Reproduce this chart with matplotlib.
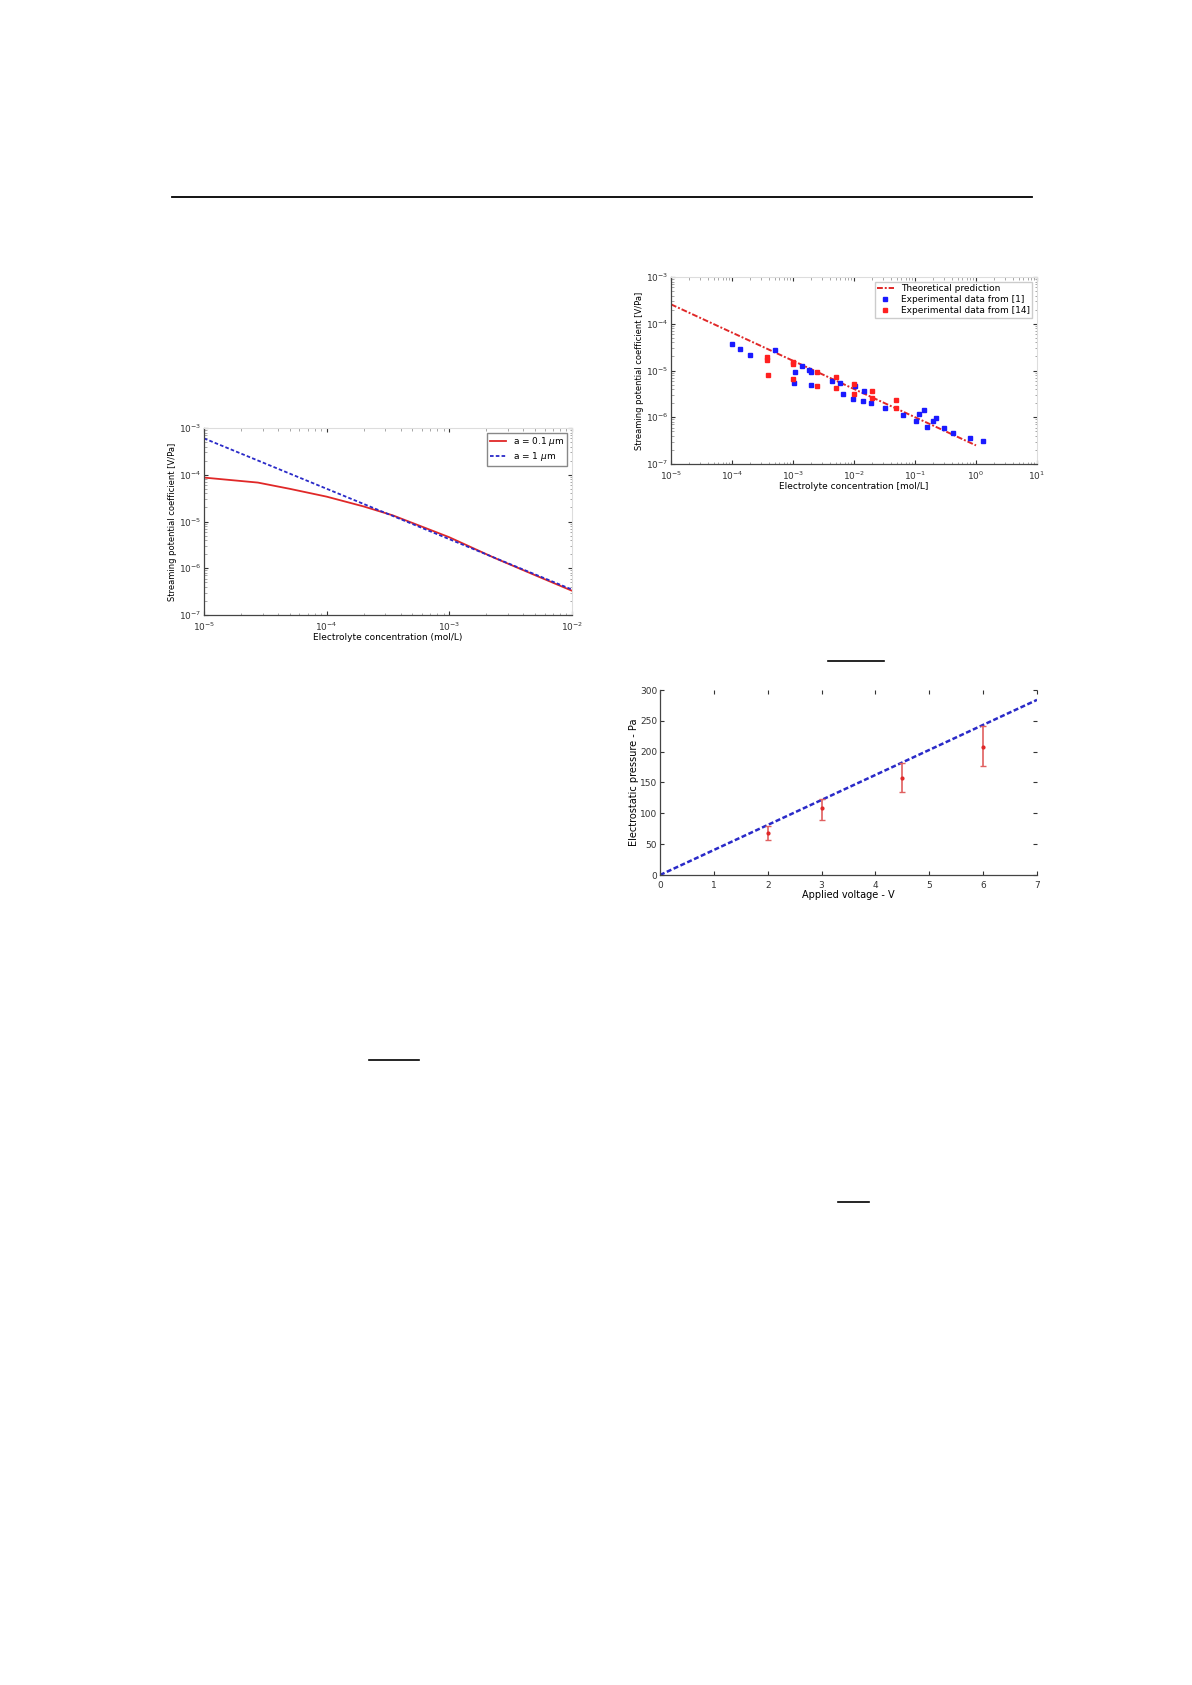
import numpy as np
import matplotlib
matplotlib.use('Agg')
import matplotlib.pyplot as plt
from matplotlib.lines import Line2D

plt.rcParams['font.family'] = ['DejaVu Sans']
plt.rcParams['font.size'] = 6.5

# chart 1 - streaming potential coefficient vs concentration, two pore radii
conc_1 = [1e-5, 2.75e-5, 5.0e-5, 1e-4, 2.0e-4, 3.47e-4, 5.6e-4, 1e-3, 2.34e-3, 5.0e-3, 1e-2]
coef_small = [8.7e-5, 6.8e-5, 5.0e-5, 3.4e-5, 2.1e-5, 1.35e-5, 8.3e-6, 4.6e-6, 1.66e-6, 7.1e-7, 3.3e-7]
conc_blue = [1e-5, 1e-2]
coef_large = [6.0e-4, 3.5e-7]

# chart 2 - theory vs experiments
theory_conc = [1e-5, 1.0]
theory_coef = [2.6e-4, 2.5e-7]
exp1_conc = [1.0e-4, 1.35e-4, 2.0e-4, 5.1e-4, 1.08e-3, 1.05e-3, 1.38e-3, 1.85e-3,
             2.0e-3, 1.96e-3, 4.3e-3, 5.9e-3, 6.6e-3, 9.7e-3, 1.03e-2, 1.44e-2,
             1.41e-2, 1.9e-2, 3.2e-2, 6.3e-2, 0.105, 0.116, 0.138, 0.158, 0.196,
             0.223, 0.296, 0.414, 0.81, 1.29]
exp1_coef = [3.7e-5, 2.9e-5, 2.1e-5, 2.8e-5, 9.1e-6, 5.4e-6, 1.26e-5, 1.03e-5,
             5.0e-6, 9.1e-6, 6.1e-6, 5.5e-6, 3.2e-6, 2.5e-6, 4.6e-6, 3.6e-6,
             2.2e-6, 2.0e-6, 1.6e-6, 1.1e-6, 8.3e-7, 1.18e-6, 1.45e-6, 6.3e-7, 8.5e-7,
             9.7e-7, 5.9e-7, 4.7e-7, 3.6e-7, 3.1e-7]
exp14_conc = [3.8e-4, 3.8e-4, 3.9e-4, 1.0e-3, 1.0e-3, 1.0e-3, 2.5e-3, 2.5e-3,
              5.0e-3, 5.0e-3, 1.0e-2, 1.0e-2, 2.0e-2, 2.0e-2, 4.9e-2, 4.9e-2]
exp14_coef = [1.94e-5, 1.7e-5, 7.9e-6, 1.5e-5, 1.35e-5, 6.6e-6, 9.3e-6, 4.6e-6,
              7.2e-6, 4.2e-6, 5.1e-6, 3.1e-6, 3.7e-6, 2.6e-6, 2.3e-6, 1.6e-6]

# chart 3 - electrostatic pressure vs voltage
line_v = [0, 7]
line_p = [0, 284]
meas_v = [2, 3, 4.5, 6]
meas_p = [68, 108, 158, 208]
meas_lo = [57, 90, 134, 176]
meas_hi = [80, 124, 182, 242]

RED = '#e02828'
BLUE = '#2a2ac8'
W, H = 1192, 1685


def px_axes(fig, x0, y0, x1, y1):
    return fig.add_axes([x0 / W, 1 - y1 / H, (x1 - x0) / W, (y1 - y0) / H])


def matlab_style(ax):
    ax.tick_params(which='both', direction='in', top=True, right=True,
                   labelsize=6.5, colors='#333333')
    ax.tick_params(axis='x', pad=4)
    ax.tick_params(axis='y', pad=2)
    ax.tick_params(which='major', length=3)
    ax.tick_params(which='minor', length=1.8, color='#999999')
    for side in ['top', 'right']:
        ax.spines[side].set_color('#dddddd')
    for side in ['left', 'bottom']:
        ax.spines[side].set_color('#444444')
        ax.spines[side].set_linewidth(0.9)


fig = plt.figure(figsize=(W / 100, H / 100), dpi=100)

# page rules left over from the scanned page
fig.add_artist(Line2D([172 / W, 1032 / W], [1 - 197 / H, 1 - 197 / H], color='black', lw=1.3))
fig.add_artist(Line2D([828 / W, 884 / W], [1 - 661 / H, 1 - 661 / H], color='black', lw=1.2))
fig.add_artist(Line2D([369 / W, 419 / W], [1 - 1060 / H, 1 - 1060 / H], color='black', lw=1.2))
fig.add_artist(Line2D([838 / W, 869 / W], [1 - 1202 / H, 1 - 1202 / H], color='black', lw=1.2))

# chart 1
ax1 = px_axes(fig, 204, 428, 572, 615)
ax1.plot(conc_1, coef_small, color=RED, lw=1.3, label=r'a = 0.1 $\mu$m')
ax1.plot(conc_blue, coef_large, color=BLUE, lw=1.3, ls=(0, (2, 1.2)), label=r'a = 1 $\mu$m')
ax1.set_xscale('log')
ax1.set_yscale('log')
ax1.set_xlim(1e-5, 1e-2)
ax1.set_ylim(1e-7, 1e-3)
matlab_style(ax1)
ax1.set_xlabel('Electrolyte concentration (mol/L)', fontsize=6.5, labelpad=0)
ax1.set_ylabel('Streaming potential coefficient [V/Pa]', fontsize=6, labelpad=1)
ax1.legend(loc='upper right', fontsize=6.5, handlelength=1.8, borderpad=0.3,
           labelspacing=0.2, fancybox=False, edgecolor='#888888', framealpha=1)

# chart 2
ax2 = px_axes(fig, 671, 277, 1037, 464)
ax2.plot(theory_conc, theory_coef, color=RED, lw=1.4, ls=(0, (3, 1, 1, 1)),
         label='Theoretical prediction')
ax2.plot(exp1_conc, exp1_coef, ls='none', marker='s', ms=3.4, color='#1a1aff',
         label='Experimental data from [1]')
ax2.plot(exp14_conc, exp14_coef, ls='none', marker='s', ms=3.0, color='#ff2020',
         label='Experimental data from [14]')
ax2.set_xscale('log')
ax2.set_yscale('log')
ax2.set_xlim(1e-5, 1e1)
ax2.set_ylim(1e-7, 1e-3)
matlab_style(ax2)
ax2.set_xlabel('Electrolyte concentration [mol/L]', fontsize=6.5, labelpad=0)
ax2.set_ylabel('Streaming potential coefficient [V/Pa]', fontsize=6, labelpad=1)
ax2.legend(loc='upper right', fontsize=6.5, handlelength=1.8, borderpad=0.3,
           labelspacing=0.2, fancybox=False, edgecolor='#cccccc', framealpha=1)

# chart 3
ax3 = px_axes(fig, 660, 690, 1037, 875)
ax3.plot(line_v, line_p, color=BLUE, lw=1.8, ls=(0, (2, 1)))
err = [np.array(meas_p) - np.array(meas_lo), np.array(meas_hi) - np.array(meas_p)]
ax3.errorbar(meas_v, meas_p, yerr=err, fmt='o', ms=2, color=RED, ecolor='#e06060',
             elinewidth=1.2, capsize=2.5, capthick=1)
ax3.set_xlim(0, 7)
ax3.set_ylim(0, 300)
ax3.set_xticks(range(0, 8))
ax3.set_yticks(range(0, 301, 50))
matlab_style(ax3)
ax3.spines['top'].set_visible(False)
ax3.spines['right'].set_visible(False)
ax3.set_xlabel('Applied voltage - V', fontsize=7, labelpad=0)
ax3.set_ylabel('Electrostatic pressure - Pa', fontsize=7, labelpad=1)

fig.savefig('out.png', dpi=100)
